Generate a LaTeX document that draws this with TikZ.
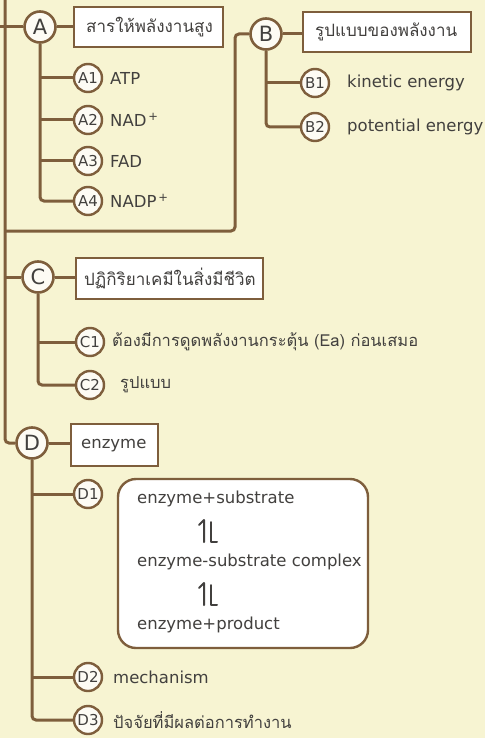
\documentclass[tikz,border=0pt]{standalone}
\usepackage{fontspec}
\setmainfont{DejaVu Sans}
\newfontfamily\thaifont[Script=Thai]{Loma}
\usetikzlibrary{positioning}

\definecolor{paper}{RGB}{247,244,210}
\definecolor{brn}{RGB}{126,94,60}
\definecolor{ink}{RGB}{66,64,62}
\definecolor{dotfill}{RGB}{253,251,244}

\pgfdeclarelayer{paperlayer}
\pgfdeclarelayer{lines}
\pgfsetlayers{paperlayer,lines,main}

\tikzset{
  link/.style={draw=brn, line width=3pt, rounded corners=4pt},
  hub/.style={circle, draw=brn, line width=2.6pt, fill=dotfill, minimum size=31pt,
    inner sep=0pt, text=ink, font=\fontsize{21}{21}\selectfont},
  leaf/.style={circle, draw=brn, line width=2.4pt, fill=dotfill, minimum size=28pt,
    inner sep=0pt, text=ink, font=\fontsize{15}{15}\selectfont},
  titlebox/.style={draw=brn, line width=2.4pt, fill=white, anchor=north west,
    inner xsep=0pt, inner ysep=0pt, text=ink},
  lbl/.style={anchor=west, inner sep=0pt, text=ink, font=\fontsize{16.5}{19}\selectfont},
  thlbl/.style={anchor=west, inner sep=0pt, text=ink, font=\thaifont\fontsize{16.5}{19}\selectfont},
  harp/.style={draw=ink, line width=2pt, line cap=round, line join=round},
}

\begin{document}
\begin{tikzpicture}[x=1pt,y=-1pt]
\useasboundingbox (0,0) rectangle (485,738);
\begin{pgfonlayer}{paperlayer}
  \fill[paper] (0,0) rectangle (485,738);
\end{pgfonlayer}

% ---- main branches ----
\node[hub] (A) at (40,27) {A};
\node[hub] (B) at (266,34) {B};
\node[hub] (C) at (38,277) {C};
\node[hub] (D) at (32,443) {D};

% ---- title boxes ----
\node[titlebox, minimum width=149pt, minimum height=40pt] (At) at (73,6)
  {\makebox[149pt][l]{\hspace{12pt}\thaifont\fontsize{17}{19}\selectfont สารให้พลังงานสูง}};
\node[titlebox, minimum width=168pt, minimum height=40pt] (Bt) at (302,11)
  {\makebox[168pt][l]{\hspace{12pt}\thaifont\fontsize{17}{19}\selectfont รูปแบบของพลังงาน}};
\node[titlebox, minimum width=187pt, minimum height=41pt] (Ct) at (75,257)
  {\makebox[187pt][l]{\hspace{8pt}\thaifont\fontsize{17}{19}\selectfont ปฏิกิริยาเคมีในสิ่งมีชีวิต}};
\node[titlebox, minimum width=87pt, minimum height=42pt] (Dt) at (70,423)
  {\makebox[87pt][l]{\hspace{10pt}\fontsize{16.5}{19}\selectfont enzyme}};

% ---- leaves ----
\node[leaf] (A1) at (88,78) {A1};
\node[leaf] (A2) at (88,120) {A2};
\node[leaf] (A3) at (88,161) {A3};
\node[leaf] (A4) at (88,201) {A4};
\node[leaf] (B1) at (315,83) {B1};
\node[leaf] (B2) at (315,127) {B2};
\node[leaf] (C1) at (90,342) {C1};
\node[leaf] (C2) at (90,385) {C2};
\node[leaf] (D1) at (88,494) {D1};
\node[leaf] (D2) at (88,677) {D2};
\node[leaf] (D3) at (88,720) {D3};

% ---- leaf texts ----
\node[lbl] (A1t) at (110,78) {ATP};
\node[lbl] (A2t) at (110,120) {NAD\textsuperscript{\,+}};
\node[lbl] (A3t) at (110,161) {FAD};
\node[lbl] (A4t) at (110,201) {NADP\textsuperscript{\,+}};
\node[lbl] (B1t) at (347,83) {kinetic energy};
\node[lbl] (B2t) at (347,127) {potential energy};
\node[thlbl] (C1t) at (112,342) {ต้องมีการดูดพลังงานกระตุ้น (Ea) ก่อนเสมอ};
\node[thlbl] (C2t) at (120,385) {รูปแบบ};
\node[lbl] (D2t) at (113,677) {mechanism};
\node[thlbl] (D3t) at (113,720) {ปัจจัยที่มีผลต่อการทำงาน};

% ---- reaction panel ----
\draw[draw=brn, line width=2.4pt, fill=white, rounded corners=18pt] (118,479) rectangle (368,648);
\node[lbl] (r1) at (137,499) {enzyme+substrate};
\node[lbl] (r2) at (137,562) {enzyme-substrate complex};
\node[lbl] (r3) at (137,625) {enzyme+product};
\foreach \yy in {531,594} {
  \draw[harp] (204,\yy+11) -- (204,\yy-11) -- (199,\yy-6);
  \draw[harp] (211,\yy-9) -- (211,\yy+11) -- (217,\yy+11);
}

% ---- connectors ----
\coordinate (top) at (5,0);
\coordinate (edgeA) at (0,27);
\coordinate (split) at (5,231);
\coordinate (rise) at (235,231);
\begin{pgfonlayer}{lines}
  \draw[link] (top) |- (D.west);
  \draw[link] (edgeA) -- (A.west);
  \draw[link] (split) -- (rise) |- (B.west);
  \draw[link] (top |- C) -- (C.west);
  \draw[link] (A) -- (At.west |- A);
  \draw[link] (B) -- (Bt.west |- B);
  \draw[link] (C) -- (Ct.west |- C);
  \draw[link] (D) -- (Dt.west |- D);
  % A leaves
  \draw[link] (A.south) |- (A4.west);
  \draw[link] (A.south |- A1) -- (A1.west);
  \draw[link] (A.south |- A2) -- (A2.west);
  \draw[link] (A.south |- A3) -- (A3.west);
  % B leaves
  \draw[link] (B.south) |- (B2.west);
  \draw[link] (B.south |- B1) -- (B1.west);
  % C leaves
  \draw[link] (C.south) |- (C2.west);
  \draw[link] (C.south |- C1) -- (C1.west);
  % D leaves
  \draw[link] (D.south) |- (D3.west);
  \draw[link] (D.south |- D1) -- (D1.west);
  \draw[link] (D.south |- D2) -- (D2.west);
\end{pgfonlayer}
\end{tikzpicture}
\end{document}
